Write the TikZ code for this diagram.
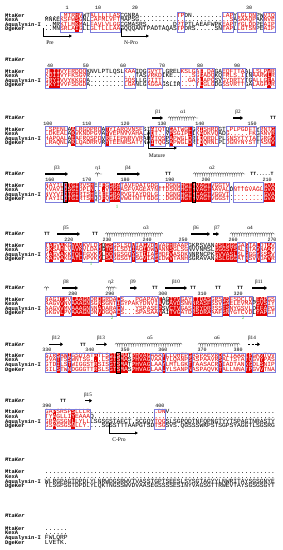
\documentclass[tikz,border=0pt]{standalone}
\usepackage{fontspec}
\usetikzlibrary{arrows.meta,decorations.pathmorphing}
\newfontfamily\seqf{Liberation Mono}
\newfontfamily\serf{Liberation Serif}
\definecolor{esred}{RGB}{228,0,0}
\definecolor{esblue}{RGB}{125,125,220}
\definecolor{esgreen}{RGB}{60,200,60}
\ExplSyntaxOn
\cs_new:Npn \gapdots #1 {\prg_replicate:nn{#1}{.}}
\intarray_new:Nn \g_esp_mask_intarray {90}
\int_new:N \l_esp_col_int
\tl_new:N \l_esp_row_tl
\cs_new_protected:Npn \esp_range:w #1 #2 / #3 \q_stop
 {
  \int_step_inline:nnn { #2 + 1 } { #3 + 1 }
   { \intarray_gset:Nnn \g_esp_mask_intarray {##1} {#1} }
 }
\cs_new_protected:Npn \espmask #1 #2
 {
  \int_step_inline:nn {90} { \intarray_gset:Nnn \g_esp_mask_intarray {##1} {0} }
  \clist_map_inline:nn {#1} { \esp_range:w {1} ##1 \q_stop }
  \clist_map_inline:nn {#2} { \esp_range:w {2} ##1 \q_stop }
 }
\cs_new_protected:Npn \esprow #1
 {
  \tl_set:Nx \l_esp_row_tl {#1}
  \int_zero:N \l_esp_col_int
  \tl_map_inline:Nn \l_esp_row_tl
   {
    \int_incr:N \l_esp_col_int
    \int_case:nn { \intarray_item:Nn \g_esp_mask_intarray { \l_esp_col_int } }
     {
      {0} { \textcolor{black}{##1} }
      {1} { \textcolor{esred}{##1} }
      {2} { \textcolor{white}{##1} }
     }
   }
 }
\ExplSyntaxOff
\def\xo{45}
\def\cw{3.769}
\def\rs{4.66}
\tikzset{
 seqtxt/.style={anchor=base west,inner sep=0pt,outer sep=0pt,text height=3.3pt,text depth=1.1pt,font=\seqf\fontsize{6.28}{6.28}\selectfont},
 nametxt/.style={anchor=base west,inner sep=0pt,text height=3.3pt,text depth=1pt,font=\seqf\bfseries\fontsize{5.4}{5.4}\selectfont},
 headtxt/.style={anchor=base west,inner sep=0pt,text height=3.3pt,text depth=1pt,font=\seqf\bfseries\itshape\fontsize{5.4}{5.4}\selectfont},
 numtxt/.style={anchor=base,inner sep=0pt,text height=3pt,text depth=0pt,font=\seqf\fontsize{5}{5}\selectfont},
 lbltxt/.style={anchor=base,inner sep=0pt,text height=3.3pt,text depth=0.5pt,font=\serf\fontsize{5.2}{5.2}\selectfont},
 ttxt/.style={anchor=base,inner sep=0pt,text height=3pt,text depth=0pt,font=\seqf\bfseries\fontsize{4.8}{4.8}\selectfont},
 strand/.style={line width=1.1pt,-{Triangle[length=2.6pt,width=3.6pt]}},
 helix/.style={decorate,decoration={coil,aspect=0.55,segment length=2.3pt,amplitude=1.3pt},line width=0.35pt,black!75},
 bluebox/.style={draw=esblue,line width=0.45pt},
 actbox/.style={draw=black,line width=0.7pt},
 bent/.style={line width=0.8pt,-{Triangle[length=3pt,width=3pt]}},
 greenmark/.style={anchor=base,inner sep=0pt,text=esgreen,font=\serf\fontsize{5}{5}\selectfont},
 ptxt/.style={anchor=base,inner sep=0pt,font=\serf\fontsize{5.6}{5.6}\selectfont},
}
\newcommand\fourrows[6]{%
 \node[seqtxt] (#1-1) at (\xo,#2) {\esprow{#3}};
 \node[seqtxt] (#1-2) at (\xo,{#2+\rs}) {\esprow{#4}};
 \node[seqtxt] (#1-3) at (\xo,{#2+2*\rs}) {\esprow{#5}};
 \node[seqtxt] (#1-4) at (\xo,{#2+3*\rs}) {\esprow{#6}};
}
\newcommand\seqnames[2]{%
 \node[nametxt] (#1m) at (5,#2) {MtaKer};
 \node[nametxt] (#1x) at (5,{#2+\rs}) {KexA};
 \node[nametxt] (#1q) at (5,{#2+2*\rs}) {Aqualysin-I};
 \node[nametxt] (#1d) at (5,{#2+3*\rs}) {DgeKer};
}
\newcommand\seqblock[8]{%
 \seqnames{#1}{#2}%
 \foreach \ca/\cb in {#8} {\fill[esred] ({\xo+\cw*\ca},{#2-4.4}) rectangle ({\xo+\cw*(\cb+1)},{#2+3*\rs+1.4});}
 \espmask{#7}{#8}%
 \fourrows{#1k}{#2}{#3}{#4}{#5}{#6}%
 \foreach \ca/\cb in {#7} {\draw[bluebox] ({\xo+\cw*\ca},{#2-4.4}) rectangle ({\xo+\cw*(\cb+1)},{#2+3*\rs+1.4});}
}
\newcommand\actsite[2]{\draw[actbox] ({\xo+\cw*#2},{#1-4.6}) rectangle ({\xo+\cw*(#2+1)},{#1+3*\rs+1.6});}
\begin{document}
\begin{tikzpicture}[x=1pt,y=-1pt]
\useasboundingbox (0,0) rectangle (282,550);
\fill[white] (0,0) rectangle (282,550);

% ---------------- Block 1
\foreach \n/\x in {1/67,10/98,20/135,30/249} \node[numtxt] (n\n) at (\x,9.7) {\n};
\seqblock{A}{17}
 {.....MTRHVWTALLLLLASCGNRA..........TPDN........LAPYLGLDNPWVIQ}
 {MNKEKSFWSGNLCAFMLVFTMAPSG\gapdots{24}SASAAQPAKNVE}
 {..MRKTLMKMALFAVLVLGGCGMASRS.......DPTPTLAEAFWPKEAPTYGLDDPEAIP}
 {..MNSRLAIGLLGLTLLLAAGQQQANTPADTAQASTPDRS.....SNTAPLLGTSNPEAIP}
 {4/9,12/19,35/36,47/49,51/55,58/60}
 {8/8}
\coordinate (preA) at (43,28);
\coordinate (preB) at (72,36);
\draw[bent] (preA) |- (preB);
\node[ptxt] (preL) at (50,44.3) {Pre};
\coordinate (npA) at (121,28);
\coordinate (npB) at (149,36);
\draw[bent] (npA) |- (npB);
\node[ptxt] (npL) at (131,44.3) {N-Pro};

% ---------------- Block 2
\node[headtxt] (Bh) at (5,61.9) {MtaKer};
\foreach \n/\x in {40/50,50/86,60/123,70/162,80/200,90/237} \node[numtxt] (n\n) at (\x,67.25) {\n};
\seqblock{B}{73}
 {DLIIVYFRDDQKNVLPTLQSLKAAIDGGVYTLGRELKSLGAF.DAGAEQFTTAALLSLPWR}
 {KDIIVYFKSGVR............TASVRKDIKE.....SGGADQKQFRLS.IINAARWLR}
 {GRYIVVYKKGDA.........GQSLLGGIITL......GARLAPGSVGYDRTYTGALLGFA}
 {GKYIVVFSDGDA.........LGANLGAGGAGSLIR....TLGLGDGSSVRTTGALAGFAR}
 {0/10,21/23,27/30,36/39,40/44,47/52,55/60}
 {1/3,41/41,59/59}

% ---------------- Block 3
\node[headtxt] (Ch) at (5,119.9) {MtaKer};
\foreach \n/\x in {100/48,110/87,120/125,130/162,140/200,150/252} \node[numtxt] (n\n) at (\x,125.25) {\n};
\draw[strand] (152,118) -- (163,118);
\node[lbltxt] (Cl1) at (158,113.3) {β1};
\draw[helix] (168,118) -- (198,118);
\node[lbltxt] (Cl2) at (183,113.3) {α1};
\draw[strand] (233,118) -- (243,118);
\node[lbltxt] (Cl3) at (238,113.3) {β2};
\node[ttxt] (Ct1) at (273,119.7) {TT};
\seqblock{C}{131}
 {LSPENLAALRGDPRQATYIARQVNSFSIATQTQGATWGLGRISHRDGTLPLPGDFTYRNTG}
 {LDKEALAKVKNDPGVAYVEPNVVAHALAQT..VPSGIPLIKADKVQADG.....FKGANVR}
 {HAPQALAEAFRQSPDVRFIEPNRVVRAHATQSPAPWGLDRIDQRDLPLSNSYTYTATGRGV}
 {LRAQNLAKLQADRRVRYTEENRSATYNAITQGSAPWGLDRIDQRNLPLDGNYNYSTTASNV}
 {0/5,8/14,16/25,28/31,33/38,40/45,48/55,57/60}
 {7/7,16/16,28/28,33/33,38/38,41/41,60/60}
\coordinate (maA) at (148,131);
\coordinate (maB) at (177,148);
\draw[bent] (maA) |- (maB);
\node[ptxt] (maL) at (157,157.4) {Mature};

% ---------------- Block 4
\node[headtxt] (Dh) at (5,175.9) {MtaKer};
\foreach \n/\x in {160/50,170/87,180/125,190/170,200/206,210/267} \node[numtxt] (n\n) at (\x,181.25) {\n};
\draw[strand] (45,174) -- (68,174);
\node[lbltxt] (Dl1) at (57,169.3) {β3};
\draw[helix] (95,174) -- (102,174);
\node[lbltxt] (Dl2) at (98,169.3) {η1};
\draw[strand] (117,174) -- (140,174);
\node[lbltxt] (Dl3) at (128,169.3) {β4};
\node[ttxt] (Dt1) at (168,175.7) {TT};
\draw[helix] (193,174) -- (245,174);
\node[lbltxt] (Dl4) at (212,169.3) {α2};
\node[ttxt] (Dt2) at (262,175.7) {TT.....T};
\seqblock{D}{187}
 {NAYILDTGIRVSHEEFGGRATAVFDATGDG..DGNGHGTHVAGTVGGTV.........GVA}
 {KVAVIDSGIDPLN...VVGGASFVAGEAYNTTDSNGHGTHVAGTAAVALDNTTGVAGLGVA}
 {NVYVIDTGIRTSHEEFEGRARVGTAYDQLG..DGNGHGTHCAGTVGGVT.........GVA}
 {TAYILDTGIRTSHQDFQGRAVWGTNTTGDG..DGNGHGTHVAGTVGGST.........GVA}
 {0/4,9/12,14/16,20/29,30/35,44/48,50/57}
 {5/8,12/12,15/15,17/19,36/43,58/60}
\actsite{187}{5}
\actsite{187}{39}
\node[greenmark] (Dg1) at (117,208.7) {1};

% ---------------- Block 5
\node[headtxt] (Eh) at (5,235.9) {MtaKer};
\foreach \n/\x in {220/69,230/107,240/147,250/183,260/233,270/272} \node[numtxt] (n\n) at (\x,241.25) {\n};
\node[ttxt] (Et1) at (47,235.7) {TT};
\draw[strand] (57,234) -- (80,234);
\node[lbltxt] (El1) at (66,229.3) {β5};
\node[ttxt] (Et2) at (95,235.7) {TT};
\draw[helix] (105,234) -- (163,234);
\node[lbltxt] (El2) at (146,229.3) {α3};
\draw[strand] (191,234) -- (210,234);
\node[lbltxt] (El3) at (196,229.3) {β6};
\draw[strand] (213,234) -- (219,234);
\node[lbltxt] (El4) at (217,229.3) {β7};
\draw[helix] (230,234) -- (275,234);
\node[lbltxt] (El5) at (250,229.3) {α4};
\seqblock{E}{247}
 {TAGVAKGVAVKVLDSQGSGSLSDVIAGVDWVAGHRAAPGKRSVANMSLGGGGASTALDTAV}
 {SKSAHLVAVKVLDADGTGSLSDIIAGIDWVANNSGLSGNVVNMSLGGGSYSALNTAVNAAY}
 {YAGVAKKTQLFGVKVLDDNGSGQYSTIIAGMDFVASDKNNRNCPKGVVASLSLGGGYSSSV}
 {KAGVAKGATLVPVKVLSASGSGTTSGVIAGIDWVTANHSGRAVANMSLGGGATNSVNDAVR}
 {0/6,10/13,18/22,24/28,30/37,51/52,54/55,57/60}
 {1/1,4/4,7/9,14/14,16/17,23/23,26/26,29/29,33/33,45/50,53/53,56/56,59/59}
\node[greenmark] (Eg1) at (91,265.5) {1};

% ---------------- Block 6
\node[headtxt] (Fh) at (5,289.9) {MtaKer};
\foreach \n/\x in {280/73,290/110,300/163,310/202,320/238} \node[numtxt] (n\n) at (\x,295.25) {\n};
\draw[helix] (44,288) -- (49,288);
\draw[strand] (62,288) -- (78,288);
\node[lbltxt] (Fl1) at (66,283.3) {β8};
\draw[helix] (106,288) -- (117,288);
\node[lbltxt] (Fl2) at (111,283.3) {η2};
\draw[strand] (130,288) -- (137,288);
\node[lbltxt] (Fl3) at (133,283.3) {β9};
\node[ttxt] (Ft1) at (155,289.7) {TT};
\draw[strand] (165,288) -- (187,288);
\node[lbltxt] (Fl4) at (176,283.3) {β10};
\node[ttxt] (Ft2) at (193,289.7) {TT};
\node[ttxt] (Ft3) at (218,289.7) {TT};
\node[ttxt] (Ft4) at (240,289.7) {TT};
\draw[strand] (252,288) -- (267,288);
\node[lbltxt] (Fl5) at (259,283.3) {β11};
\seqblock{F}{301}
 {NAGITPVLAAGNDRDGRDACS...PGAPAVTAGIYVGAYTTDASGRSNSFSDCLDLFAPGS}
 {AAGVVNVAAAGNSGNSGNTIGYPAKYDNVIAVGAVDSNNNRASFSSVGAELEVMAPGVSIY}
 {AAGVVMVAAAGNNNADARACN...YSPASEPSVCTVGASDRYDRRSSFSNYGSVLDIFAPG}
 {SKGVLPVAAAGNDNVDGQACS...SPASAANAITVGATDRSDRAAAFSNYGTCVDLYAPGT}
 {0/6,12/18,20/29,36/38,44/46,49/54,59/60}
 {4/4,7/11,14/14,19/19,30/30,33/35,39/43,47/48,56/58}
\node[greenmark] (Fg1) at (112,319.7) {2};
\node[greenmark] (Fg2) at (243,319.7) {2};

% ---------------- Block 7
\node[headtxt] (Gh) at (5,346.2) {MtaKer};
\foreach \n/\x in {330/47,340/90,350/125,360/163,370/202,380/238} \node[numtxt] (n\n) at (\x,351.55) {\n};
\draw[strand] (49,344.3) -- (63,344.3);
\node[lbltxt] (Gl1) at (56,339.6) {β12};
\node[ttxt] (Gt1) at (83,346) {TT};
\draw[strand] (96,344.3) -- (107,344.3);
\node[lbltxt] (Gl2) at (101,339.6) {β13};
\draw[helix] (115,344.3) -- (182,344.3);
\node[lbltxt] (Gl3) at (150,339.6) {α5};
\draw[helix] (198,344.3) -- (240,344.3);
\node[lbltxt] (Gl4) at (217,339.6) {α6};
\draw[line width=1.1pt,dash pattern=on 2pt off 1.5pt] (248,344.3) -- (255,344.3);
\draw[strand] (255,344.3) -- (260,344.3);
\node[lbltxt] (Gl5) at (252,339.6) {β14};
\seqblock{G}{357.3}
 {SIRSAWIGSDTATATLSGTSMATPHVAGAAAYLLQHEPGASPAEVRDAITAAATPGKVTQV}
 {GVATTSSWNTSG...LSGTSMASPHVAGVAALYLQANPSASPAAVRSALTSTATQGVYPAS}
 {GTDILSTWIGGSTRSISGTSMATPHVAGLAAYLMTLGKTTAASACRYIADTANKGDLSNIP}
 {SILSTWNDGGGTTRSLSGTSMASPHVAGLAALYLSANPNASPAQVKTALLNNATPGVVTNA}
 {0/2,4/5,7/16,28/30,32/37,39/45,47/52,55/60}
 {3/3,6/6,13/13,17/21,23/27,31/31,38/38,46/46,53/54,57/57}
\actsite{357.3}{19}

% ---------------- Block 8
\node[headtxt] (Hh) at (5,402.6) {MtaKer};
\foreach \n/\x in {390/47,400/160} \node[numtxt] (n\n) at (\x,407.95) {\n};
\node[ttxt] (Ht1) at (63,402.4) {TT};
\draw[strand] (85,400.7) -- (92,400.7);
\node[lbltxt] (Hl1) at (88,396) {β15};
\seqblock{H}{413.7}
 {GAPSRSPSLLLR\gapdots{18}DNV\gapdots{28}}
 {TYAGLLIYEAAAQ\gapdots{48}}
 {GRAGSGNLLYLLLSGSGSTAFCT.SCGQYTQGSLSGPQDTNFQPNGTYYTSPAGTNRASTY}
 {GSAGSGSNLLY....SGSSTTTAAPGTSDTSGSVS.QGSSSWKPSTSGPSYAGGTLSGSRG}
 {0/11,29/31}
 {2/2,7/7}
\coordinate (cpA) at (109,423);
\coordinate (cpB) at (138,433);
\draw[bent] (cpA) |- (cpB);
\node[ptxt] (cpL) at (119,441) {C-Pro};

% ---------------- Block 9
\node[headtxt] (Ih) at (5,461.1) {MtaKer};
\seqnames{I}{473.7}
\espmask{}{}
\fourrows{Ik}{473.7}
 {\gapdots{61}}
 {\gapdots{61}}
 {WLRGPAGTDPDLYLNRWDGSRWVTVASSTGPTSEESLSYSGTAGYYLNWRITAYSGSGNYE}
 {TLSGPSGTDPDLYLQKTNGSSWVDVAASEGSSSSESINYVAGSGTTRWEVTAYSGSGSGYT}

% ---------------- Block 10
\node[headtxt] (Jh) at (5,517.7) {MtaKer};
\seqnames{J}{530.3}
\fourrows{Jk}{530.3}
 {......}
 {......}
 {FWLQRP}
 {LVETK.}
\end{tikzpicture}
\end{document}
